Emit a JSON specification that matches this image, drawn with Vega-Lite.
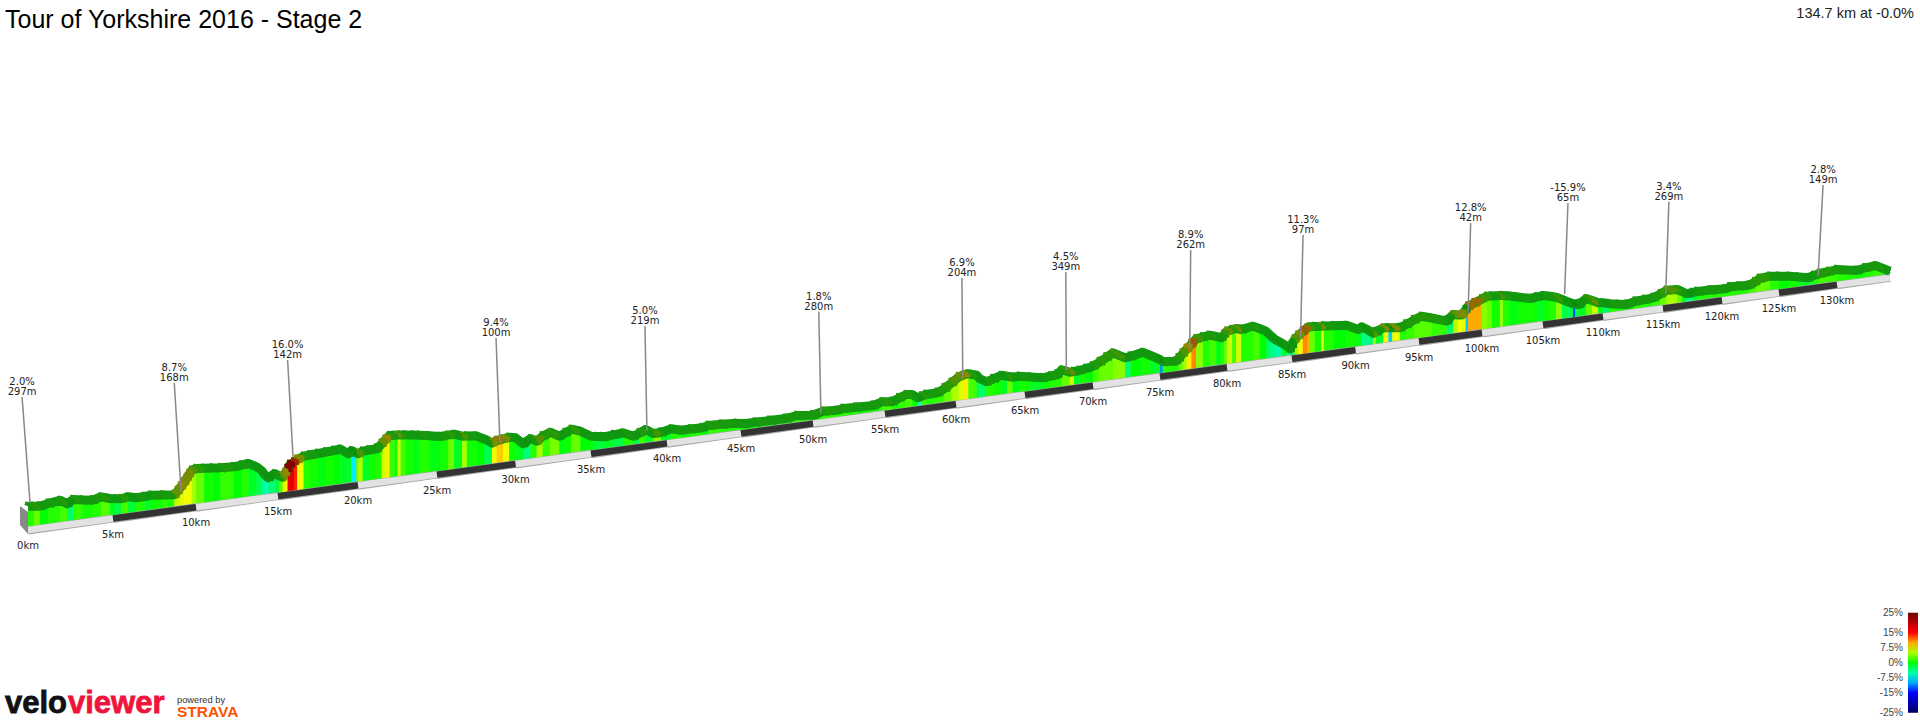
{
"$schema":"https://vega.github.io/schema/vega-lite/v6.json",
"width":1920,"height":720,"padding":0,"autosize":{"type":"none"},"background":"white",
"config":{"view":{"stroke":null}},
"title":{"text":"Tour of Yorkshire 2016 - Stage 2","anchor":"start","frame":"group","orient":"top","offset":-33,"dx":5,"font":"Liberation Sans","fontSize":25,"fontWeight":"normal","color":"#000"},
"datasets":{
"profile":[
{"km":0,"h":213.8,"g":1},{"km":0.35,"h":213.8,"g":3},{"km":0.7,"h":213.8,"g":0},{"km":1.2,"h":216.5,"g":1},{"km":1.9,"h":219.8,"g":2},{"km":2.3,"h":216.2,"g":-3},{"km":2.65,"h":220.5,"g":1.5},{"km":3.2,"h":220.1,"g":0.5},{"km":3.8,"h":219.8,"g":1},{"km":4.3,"h":223.2,"g":2.5},{"km":4.8,"h":221.5,"g":-1},{"km":5.2,"h":221.3,"g":-2},{"km":5.5,"h":221.2,"g":2},{"km":5.9,"h":223.2,"g":-1.5},{"km":6.4,"h":222.2,"g":1},{"km":6.9,"h":223.5,"g":-1},{"km":7.3,"h":224.8,"g":0.5},{"km":8,"h":225,"g":1},
{"km":8.7,"h":225.2,"g":6},{"km":8.9,"h":229,"g":6},{"km":9.1,"h":233.5,"g":8},{"km":9.3,"h":238,"g":7},{"km":9.45,"h":242,"g":7},{"km":9.6,"h":246,"g":7},{"km":9.75,"h":249.8,"g":5},{"km":10,"h":251.5,"g":3},{"km":10.5,"h":251.7,"g":0.5},{"km":11,"h":252,"g":0},{"km":11.5,"h":252.2,"g":1.5},{"km":12.3,"h":253.2,"g":0},{"km":12.8,"h":255,"g":1},{"km":13.2,"h":256.5,"g":-1},{"km":13.7,"h":253.2,"g":-2.5},{"km":14,"h":249.5,"g":-4},{"km":14.2,"h":245,"g":-6},{"km":14.4,"h":242.2,"g":-3.5},{"km":14.8,"h":246.5,"g":-2},{"km":15.1,"h":244,"g":3},{"km":15.3,"h":242.8,"g":7},{"km":15.45,"h":247,"g":8},{"km":15.6,"h":251,"g":16},{"km":15.75,"h":255.5,"g":17},{"km":16,"h":258,"g":14},{"km":16.2,"h":260.5,"g":7},{"km":16.6,"h":263.8,"g":1},{"km":17,"h":265,"g":0.5},{"km":17.5,"h":266.5,"g":-0.5},{"km":18,"h":268,"g":0.5},{"km":18.5,"h":269.5,"g":0},{"km":18.9,"h":271,"g":-1},
{"km":19.4,"h":266.2,"g":-1},{"km":19.6,"h":269.5,"g":-8},{"km":19.9,"h":267,"g":3},{"km":20,"h":266.2,"g":5},{"km":20.3,"h":268.8,"g":-1},{"km":20.7,"h":270,"g":0.5},{"km":21.2,"h":271.2,"g":1},{"km":21.5,"h":276.2,"g":6},{"km":21.75,"h":280.5,"g":8},{"km":22,"h":284.5,"g":1.5},{"km":22.3,"h":284.7,"g":0.5},{"km":22.5,"h":284.9,"g":6},{"km":22.7,"h":285.1,"g":2},{"km":23,"h":285.1,"g":0.5},{"km":23.5,"h":285,"g":-0.5},{"km":23.9,"h":284.8,"g":1},{"km":24.5,"h":284.3,"g":-0.5},{"km":25.2,"h":283.5,"g":0.5},{"km":25.7,"h":284.9,"g":3},{"km":26.1,"h":285.8,"g":-1},{"km":26.6,"h":283.8,"g":5},{"km":26.9,"h":284,"g":0.5},{"km":27.5,"h":284.2,"g":0},{"km":28,"h":281,"g":-2},{"km":28.2,"h":279.8,"g":-2.5},{"km":28.5,"h":276.8,"g":7},{"km":28.8,"h":279.5,"g":9},{"km":29.2,"h":281,"g":7},{"km":29.6,"h":282.8,"g":0.5},{"km":30,"h":282.2,"g":-1},{"km":30.5,"h":276.2,"g":-3.5},{"km":31,"h":281.5,"g":1},{"km":31.4,"h":278.8,"g":5},{"km":31.8,"h":283.8,"g":1.5},{"km":32.3,"h":287.8,"g":3.5},{"km":32.9,"h":283.8,"g":-0.5},{"km":33.3,"h":287,"g":0.5},{"km":33.7,"h":290.8,"g":3},{"km":34.3,"h":288.8,"g":0},{"km":35,"h":283.8,"g":-1},{"km":35.4,"h":283.5,"g":-2},{"km":35.8,"h":283.2,"g":-1},{"km":36.5,"h":285.2,"g":-2},{"km":37.1,"h":287.2,"g":1},{"km":37.8,"h":283.8,"g":-2},{"km":38.2,"h":287,"g":1.5},{"km":38.6,"h":290.5,"g":-1},{"km":39.1,"h":286.5,"g":4},{"km":39.6,"h":287.5,"g":-1},
{"km":40.3,"h":291.2,"g":1},{"km":40.9,"h":289.8,"g":0.5},{"km":41.6,"h":291,"g":1},{"km":42.4,"h":292.2,"g":0},{"km":42.8,"h":294.5,"g":1.5},{"km":43.7,"h":295.7,"g":1},{"km":44.7,"h":296.8,"g":0.5},{"km":45.2,"h":296.2,"g":0},{"km":46,"h":297.7,"g":1},{"km":47,"h":299.5,"g":0.5},{"km":48.1,"h":301.5,"g":1},{"km":48.9,"h":304.5,"g":1},{"km":50,"h":304.8,"g":1},{"km":50.7,"h":308.8,"g":1.5},{"km":51.7,"h":309.8,"g":1},{"km":52.1,"h":311.5,"g":1},{"km":53,"h":312.8,"g":0.5},{"km":54.2,"h":314.5,"g":1},{"km":54.8,"h":318.2,"g":2},{"km":55.5,"h":318.2,"g":0.5},{"km":56,"h":322,"g":1.5},{"km":56.5,"h":325.5,"g":2},{"km":56.9,"h":325.5,"g":0.5},{"km":57.3,"h":322.2,"g":-5},{"km":57.6,"h":324,"g":2},{"km":57.9,"h":325.5,"g":1},{"km":58.7,"h":327.2,"g":1.5},{"km":59.2,"h":331.5,"g":3},{"km":59.7,"h":337.2,"g":5},{"km":60.2,"h":343.2,"g":6.5},{"km":60.6,"h":345.5,"g":8},{"km":60.9,"h":346.2,"g":2},{"km":61.5,"h":344.8,"g":-2},
{"km":61.7,"h":341.5,"g":-3},{"km":62.2,"h":338.2,"g":1},{"km":62.7,"h":341,"g":0.5},{"km":63.3,"h":344.8,"g":-1},{"km":63.7,"h":343.8,"g":3},{"km":64.1,"h":342.8,"g":-0.5},{"km":64.6,"h":343.8,"g":0.5},{"km":65.4,"h":343,"g":-1},{"km":66.3,"h":342.2,"g":0.5},{"km":66.9,"h":344,"g":1},{"km":67.4,"h":345.5,"g":1},{"km":67.7,"h":350.2,"g":3},{"km":68.3,"h":347.8,"g":6},{"km":68.6,"h":348.5,"g":-1},{"km":69,"h":349.5,"g":0.5},{"km":69.5,"h":351.5,"g":0},{"km":70,"h":353.8,"g":2},{"km":70.5,"h":358,"g":3},{"km":71,"h":362.5,"g":3},{"km":71.5,"h":367.2,"g":4},{"km":72.4,"h":362.2,"g":-3.5},{"km":72.8,"h":363.5,"g":0},{"km":73.7,"h":367.8,"g":0.5},{"km":74.3,"h":364.5,"g":-1},{"km":75,"h":360.5,"g":-11},{"km":75.2,"h":358.5,"g":1},{"km":76.2,"h":358.8,"g":1},{"km":76.4,"h":361.5,"g":3},{"km":76.7,"h":366.5,"g":5},{"km":77,"h":371,"g":8},{"km":77.35,"h":376,"g":11},{"km":77.7,"h":381.2,"g":4},{"km":78.2,"h":383,"g":1},{"km":78.7,"h":384.8,"g":2},{"km":79.2,"h":383.5,"g":-0.5},{"km":79.6,"h":382.2,"g":1},{"km":79.8,"h":385.5,"g":3},{"km":80,"h":388.8,"g":6},{"km":80.4,"h":390.5,"g":2},{"km":80.7,"h":391.5,"g":6},{"km":81.1,"h":390.5,"g":1},{"km":82,"h":393.8,"g":2},{"km":82.5,"h":391.5,"g":0},{"km":83,"h":388.8,"g":-2.5},{"km":83.3,"h":385,"g":-4},{"km":83.7,"h":380.5,"g":-5},{"km":84.2,"h":377,"g":-1},{"km":84.6,"h":373.8,"g":-6},{"km":84.85,"h":371,"g":-1},
{"km":85,"h":375,"g":-4},{"km":85.2,"h":380.5,"g":5},{"km":85.5,"h":384.5,"g":7},{"km":85.85,"h":388.5,"g":11},{"km":86.2,"h":392.2,"g":10},{"km":86.4,"h":393.2,"g":3},{"km":86.8,"h":393.5,"g":0.5},{"km":87.3,"h":393.8,"g":7},{"km":87.5,"h":394,"g":1},{"km":88.3,"h":394.3,"g":0},{"km":89.3,"h":394.8,"g":0.5},{"km":90.2,"h":390.5,"g":-1},{"km":90.5,"h":393.2,"g":-4},{"km":91,"h":390,"g":-3.5},{"km":91.4,"h":386.5,"g":5},{"km":91.6,"h":388,"g":-1},{"km":92.2,"h":392.2,"g":7},{"km":92.6,"h":392.2,"g":-9},{"km":92.9,"h":392.2,"g":7},{"km":93.5,"h":392.2,"g":1},{"km":94,"h":395.5,"g":1.5},{"km":94.6,"h":400,"g":2.5},{"km":95.2,"h":403.8,"g":2.5},{"km":96,"h":402,"g":1.5},{"km":97.2,"h":398.8,"g":-3},{"km":97.7,"h":405.5,"g":5.5},{"km":98.1,"h":405,"g":7},{"km":98.4,"h":405,"g":7},{"km":98.7,"h":410,"g":-9},{"km":98.9,"h":413.8,"g":10},{"km":99.4,"h":417,"g":10},{"km":100,"h":421,"g":4},{"km":100.4,"h":423.8,"g":3},{"km":100.8,"h":424,"g":0.5},{"km":101.5,"h":424.4,"g":5},{"km":101.7,"h":424.5,"g":1},{"km":102.3,"h":424,"g":-0.5},{"km":102.9,"h":423,"g":0.5},{"km":103.9,"h":421.5,"g":0.5},{"km":104.5,"h":423,"g":-1},{"km":105,"h":424.5,"g":0.5},{"km":105.6,"h":423.7,"g":1},{"km":106.1,"h":422.8,"g":4},{"km":106.6,"h":420.5,"g":-2},{"km":107,"h":418.5,"g":-2.5},{"km":107.5,"h":416.2,"g":-13},{"km":107.7,"h":416,"g":-2},{"km":108,"h":415.5,"g":-1},{"km":108.6,"h":421.5,"g":3},{"km":109.1,"h":419.5,"g":6},{"km":109.6,"h":417.2,"g":-1},{"km":110,"h":417.2,"g":-3},
{"km":110.6,"h":416.2,"g":1},{"km":111.3,"h":415.8,"g":0.5},{"km":112,"h":415.5,"g":1},{"km":112.7,"h":418.8,"g":1},{"km":113.5,"h":420.5,"g":1},{"km":114.2,"h":422.2,"g":1.5},{"km":114.8,"h":426,"g":3},{"km":115.3,"h":429.8,"g":5},{"km":116.2,"h":430.5,"g":3},{"km":116.6,"h":428.5,"g":-1},{"km":117,"h":426.2,"g":-4},{"km":117.5,"h":427.5,"g":-2},{"km":117.9,"h":428.5,"g":1},{"km":119,"h":430,"g":1},{"km":120.3,"h":431.2,"g":1},{"km":120.7,"h":433.2,"g":1},{"km":121.5,"h":434,"g":1},{"km":122.4,"h":434.8,"g":2},{"km":122.9,"h":438,"g":3},{"km":123.3,"h":441.5,"g":3},{"km":124.2,"h":443.8,"g":1},{"km":125,"h":443.8,"g":0},{"km":125.9,"h":443.8,"g":0.5},{"km":126.7,"h":443,"g":-1},{"km":127.5,"h":442.2,"g":-1.5},{"km":128,"h":444.5,"g":1},{"km":128.5,"h":446.5,"g":2},{"km":129.3,"h":448.5,"g":1.5},{"km":130,"h":450.5,"g":1},{"km":131.7,"h":449.5,"g":0.5},{"km":132.5,"h":452,"g":1},{"km":133.4,"h":454.5,"g":1.5},{"km":134.2,"h":451,"g":-1},{"km":134.7,"h":448.8,"g":-1}
],
"road":[
{"km":0,"km2":5,"h":190,"h2":201.5,"tone":"light","label":"0km"},{"km":5,"km2":10,"h":201.5,"h2":212.7,"tone":"dark","label":"5km"},{"km":10,"km2":15,"h":212.7,"h2":223.9,"tone":"light","label":"10km"},{"km":15,"km2":20,"h":223.9,"h2":234.7,"tone":"dark","label":"15km"},{"km":20,"km2":25,"h":234.7,"h2":245.4,"tone":"light","label":"20km"},{"km":25,"km2":30,"h":245.4,"h2":256,"tone":"dark","label":"25km"},{"km":30,"km2":35,"h":256,"h2":266.3,"tone":"light","label":"30km"},{"km":35,"km2":40,"h":266.3,"h2":276.6,"tone":"dark","label":"35km"},{"km":40,"km2":45,"h":276.6,"h2":286.6,"tone":"light","label":"40km"},{"km":45,"km2":50,"h":286.6,"h2":296.4,"tone":"dark","label":"45km"},{"km":50,"km2":55,"h":296.4,"h2":306.1,"tone":"light","label":"50km"},{"km":55,"km2":60,"h":306.1,"h2":315.8,"tone":"dark","label":"55km"},{"km":60,"km2":65,"h":315.8,"h2":325.1,"tone":"light","label":"60km"},{"km":65,"km2":70,"h":325.1,"h2":334.3,"tone":"dark","label":"65km"},{"km":70,"km2":75,"h":334.3,"h2":343.4,"tone":"light","label":"70km"},{"km":75,"km2":80,"h":343.4,"h2":352.5,"tone":"dark","label":"75km"},{"km":80,"km2":85,"h":352.5,"h2":361.3,"tone":"light","label":"80km"},{"km":85,"km2":90,"h":361.3,"h2":369.9,"tone":"dark","label":"85km"},{"km":90,"km2":95,"h":369.9,"h2":378.5,"tone":"light","label":"90km"},{"km":95,"km2":100,"h":378.5,"h2":387,"tone":"dark","label":"95km"},{"km":100,"km2":105,"h":387,"h2":395.3,"tone":"light","label":"100km"},{"km":105,"km2":110,"h":395.3,"h2":403.4,"tone":"dark","label":"105km"},{"km":110,"km2":115,"h":403.4,"h2":411.5,"tone":"light","label":"110km"},{"km":115,"km2":120,"h":411.5,"h2":419.5,"tone":"dark","label":"115km"},{"km":120,"km2":125,"h":419.5,"h2":427.2,"tone":"light","label":"120km"},{"km":125,"km2":130,"h":427.2,"h2":435.1,"tone":"dark","label":"125km"},{"km":130,"km2":134.7,"h":435.1,"h2":442.2,"tone":"light","label":"130km"}
],
"callouts":[
{"km":-0.35,"km2":0.12,"h":323,"h2":217,"label":"2.0%\n297m"},{"km":8.69,"km2":9.1,"h":337.3,"h2":228.3,"label":"8.7%\n168m"},{"km":15.6,"km2":15.94,"h":360,"h2":263.3,"label":"16.0%\n142m"},{"km":28.76,"km2":29.01,"h":382,"h2":277,"label":"9.4%\n100m"},{"km":38.55,"km2":38.68,"h":394,"h2":289.3,"label":"5.0%\n219m"},{"km":50.4,"km2":50.55,"h":408.3,"h2":306.7,"label":"1.8%\n280m"},{"km":60.43,"km2":60.49,"h":442,"h2":342,"label":"6.9%\n204m"},{"km":68,"km2":68.04,"h":448,"h2":350,"label":"4.5%\n349m"},{"km":77.29,"km2":77.22,"h":470,"h2":372,"label":"8.9%\n262m"},{"km":85.87,"km2":85.67,"h":485,"h2":382,"label":"11.3%\n97m"},{"km":99.1,"km2":98.9,"h":497,"h2":407,"label":"12.8%\n42m"},{"km":107.08,"km2":106.8,"h":517,"h2":426,"label":"-15.9%\n65m"},{"km":115.5,"km2":115.23,"h":518.3,"h2":426,"label":"3.4%\n269m"},{"km":128.8,"km2":128.37,"h":535,"h2":444,"label":"2.8%\n149m"}
]
},
"encoding":{
"x":{"field":"km","type":"quantitative","axis":null,"scale":{"domain":[-1.65,0,5,10,15,20,25,30,35,40,45,50,55,60,65,70,75,80,85,90,95,100,105,110,115,120,125,130,134.7,137.35],"range":[0,28,113,196,278,358,437,515.5,591,667,741,813,885,956,1025,1093,1160,1227,1292,1355.5,1419,1482,1543,1603,1663,1722,1779,1837,1890,1920],"nice":false,"zero":false}},
"y":{"field":"h","type":"quantitative","axis":null,"scale":{"domain":[0,720],"range":[720,0],"nice":false,"zero":false}}
},
"layer":[
{"data":{"name":"profile"},"transform":[{"window":[{"op":"lead","field":"km","as":"next"},{"op":"lead","field":"h","as":"nextH"}],"sort":[{"field":"km","order":"ascending"}]},{"filter":{"field":"next","valid":true}}],
"mark":{"type":"rect"},
"encoding":{"x2":{"field":"next"},"y2":{"datum":150},
"color":{"field":"g","type":"quantitative","scale":{"domain":[-25,-15,-7.5,0,7.5,15,25],"range":["#000060","#0000ff","#00ffff","#00ff00","#ffff00","#ff0000","#700000"],"interpolate":"rgb"},
"legend":{"type":"gradient","orient":"none","legendX":1908,"legendY":612.7,"direction":"vertical","gradientLength":100,"gradientThickness":10,"gradientStrokeWidth":0,"title":null,"values":[-25,-15,-7.5,0,7.5,15,25],"labelExpr":"datum.value + '%'","labelOffset":-15,"labelFont":"Liberation Sans","labelFontSize":10,"labelColor":"#444","labelOverlap":false,"encoding":{"labels":{"align":{"value":"right"},"baseline":{"value":"middle"}}}}}}},
{"data":{"name":"profile"},"transform":[{"window":[{"op":"lead","field":"km","as":"next"},{"op":"lead","field":"h","as":"nextH"}],"sort":[{"field":"km","order":"ascending"}]},{"filter":{"field":"next","valid":true}}],
"mark":{"type":"rect"},
"encoding":{"x2":{"field":"next"},"y":{"field":"nextH","type":"quantitative"},"y2":{"datum":150},
"color":{"field":"g","type":"quantitative"}}},
{"data":{"values":[{"km":-1.65,"h":186.2},{"km":137.35,"h":446.4}]},"mark":{"type":"area","color":"white"},"encoding":{"y2":{"datum":0}}},
{"data":{"name":"road"},"mark":{"type":"rule","color":"#a8a8a8","strokeWidth":8,"yOffset":0.5},"encoding":{"x2":{"field":"km2"},"y2":{"field":"h2"}}},
{"data":{"name":"road"},"transform":[{"filter":"datum.tone=='light'"}],"mark":{"type":"rule","color":"#e2e2e2","strokeWidth":6.5},"encoding":{"x2":{"field":"km2"},"y2":{"field":"h2"}}},
{"data":{"name":"road"},"transform":[{"filter":"datum.tone=='dark'"}],"mark":{"type":"rule","color":"#333333","strokeWidth":6.5},"encoding":{"x2":{"field":"km2"},"y2":{"field":"h2"}}},
{"data":{"name":"profile"},"mark":{"type":"line","color":"#119911","strokeWidth":9,"strokeJoin":"round"}},
{"data":{"name":"profile"},"transform":[{"window":[{"op":"lead","field":"km","as":"next"},{"op":"lead","field":"h","as":"nextH"}],"sort":[{"field":"km","order":"ascending"}]},{"filter":{"field":"next","valid":true}}],
"mark":{"type":"rule","strokeWidth":4,"xOffset":-3,"yOffset":-3},
"encoding":{"x2":{"field":"next"},"y2":{"field":"nextH"},"stroke":{"field":"g","type":"quantitative","legend":null,"scale":{"domain":[-25,0,3,8,13,16,25],"range":["#007700","#119911","#2a9a05","#8f8a00","#a04000","#880000","#600000"],"interpolate":"rgb"}}}},
{"data":{"name":"profile"},"transform":[{"window":[{"op":"lead","field":"km","as":"next"},{"op":"lead","field":"h","as":"nextH"}],"sort":[{"field":"km","order":"ascending"}]},{"filter":{"field":"next","valid":true}}],
"mark":{"type":"rule","strokeWidth":4},
"encoding":{"x2":{"field":"next"},"y2":{"field":"nextH"},"stroke":{"field":"g","type":"quantitative","legend":null}}},
{"data":{"name":"profile"},"transform":[{"window":[{"op":"lead","field":"km","as":"next"},{"op":"lead","field":"h","as":"nextH"}],"sort":[{"field":"km","order":"ascending"}]},{"filter":{"field":"next","valid":true}}],
"mark":{"type":"rule","strokeWidth":4,"xOffset":3,"yOffset":3},
"encoding":{"x2":{"field":"next"},"y2":{"field":"nextH"},"stroke":{"field":"g","type":"quantitative","legend":null}}},
{"data":{"values":[{"km":-0.47,"h":195,"top":214},{"km":0,"h":186,"top":208}]},"mark":{"type":"area","color":"#888888"},"encoding":{"y2":{"field":"top"}}},
{"data":{"name":"callouts"},"mark":{"type":"rule","color":"#888888","strokeWidth":1.5},"encoding":{"x2":{"field":"km2"},"y2":{"field":"h2"}}},
{"data":{"name":"callouts"},"mark":{"type":"text","font":"DejaVu Sans","fontSize":10,"color":"#222","align":"center","baseline":"bottom","lineBreak":"\n","lineHeight":10,"dy":-10},"encoding":{"text":{"field":"label"}}},
{"data":{"name":"road"},"mark":{"type":"text","font":"DejaVu Sans","fontSize":10,"color":"#222","align":"center","baseline":"middle","dy":16},"encoding":{"text":{"field":"label"}}},
{"data":{"values":[{"km":136.82,"h":706.5,"label":"134.7 km at -0.0%"}]},"mark":{"type":"text","font":"Liberation Sans","fontSize":14.5,"color":"#222","align":"right","baseline":"middle"},"encoding":{"text":{"field":"label"}}},
{"data":{"values":[{"km":-1.356,"h":6.6,"label":"velo"}]},"mark":{"type":"text","font":"Liberation Sans","fontWeight":"bold","fontSize":31,"color":"#111111","stroke":"#111111","strokeWidth":0.8,"align":"left","baseline":"alphabetic"},"encoding":{"text":{"field":"label"}}},
{"data":{"values":[{"km":2.35,"h":6.6,"label":"viewer"}]},"mark":{"type":"text","font":"Liberation Sans","fontWeight":"bold","fontSize":31,"color":"#f0143c","stroke":"#f0143c","strokeWidth":0.8,"align":"left","baseline":"alphabetic"},"encoding":{"text":{"field":"label"}}},
{"data":{"values":[{"km":8.855,"h":16.7,"label":"powered by"}]},"mark":{"type":"text","font":"Liberation Sans","fontSize":9.3,"color":"#333","align":"left","baseline":"alphabetic"},"encoding":{"text":{"field":"label"}}},
{"data":{"values":[{"km":8.855,"h":3.3,"label":"STRAVA"}]},"mark":{"type":"text","font":"Liberation Sans","fontWeight":"bold","fontSize":15.5,"color":"#fc5200","align":"left","baseline":"alphabetic"},"encoding":{"text":{"field":"label"}}}
]
}
